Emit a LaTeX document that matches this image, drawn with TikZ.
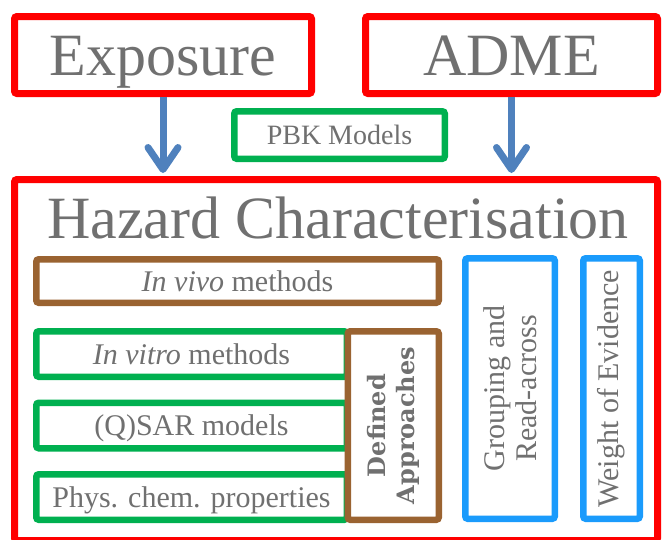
\documentclass[tikz,border=0pt]{standalone}
\usepackage{fontspec}
\setmainfont{Liberation Serif}
\newfontfamily\dvserif{DejaVu Serif}
\usetikzlibrary{arrows.meta}
\definecolor{redc}{HTML}{FF0000}
\definecolor{greenc}{HTML}{00B050}
\definecolor{brownc}{HTML}{9A6331}
\definecolor{bluec}{HTML}{1A9BFC}
\definecolor{arrc}{HTML}{4F81BD}
\definecolor{txt}{HTML}{707070}
\begin{document}
\begin{tikzpicture}[x=1pt,y=-1pt,
  box/.style={draw, line width=6.5pt, rounded corners=2.5pt, inner sep=0pt, fill=white, text=txt, anchor=center},
  redbox/.style={box, draw=redc, line width=7pt},
  greenbox/.style={box, draw=greenc},
  brownbox/.style={box, draw=brownc},
  bluebox/.style={box, draw=bluec},
  big/.style={font=\fontsize{60}{66}\selectfont, text height=40pt, text depth=0pt},
  small/.style={font=\fontsize{30}{34}\selectfont, text height=20pt, text depth=0pt},
  rot/.style={rotate=90, align=center, font=\fontsize{30}{32}\selectfont},
  arr/.style={draw=arrc, line width=7pt, shorten >=3pt, -{Straight Barb[length=22pt, width=30pt, round]}}
]
\useasboundingbox (0,0) rectangle (663,539);
\clip (0,0) rectangle (663,539);
% top boxes
\node[redbox, big, minimum width=297pt, minimum height=77pt] (expo) at (163,55) {Exposure};
\node[redbox, big, minimum width=292pt, minimum height=77pt] (adme) at (511.5,55) {ADME};
\node[greenbox, font=\fontsize{28}{32}\selectfont, text height=19pt, text depth=0pt, minimum width=210.5pt, minimum height=47.5pt] (pbk) at (339.5,135) {PBK Models};
% hazard box
\node[redbox, minimum width=643pt, minimum height=361pt] (haz) at (336,360) {};
\node[text=txt, font=\fontsize{60}{66}\selectfont, anchor=base, inner sep=0pt] (haztitle) at (338,238) {Hazard Characterisation};
% arrows
\draw[arr] (expo.south) -- (expo.south |- haz.north);
\draw[arr] (adme.south) -- (adme.south |- haz.north);
% inner boxes
\node[brownbox, small, minimum width=402.5pt, minimum height=43.5pt] (vivo) at (237.5,281) {\textit{In vivo} methods};
\node[greenbox, small, minimum width=310.5pt, minimum height=45.5pt] (vitro) at (191.5,354) {\textit{In vitro} methods};
\node[greenbox, small, minimum width=310.5pt, minimum height=45.5pt] (qsar) at (191.5,425.5) {(Q)SAR models};
\node[greenbox, small, minimum width=310.5pt, minimum height=45.5pt] (phys) at (191.5,497) {Phys. chem. properties};
\node[brownbox, rotate=90, align=center, font=\dvserif\bfseries\fontsize{24}{29}\selectfont, minimum width=188.5pt, minimum height=91pt] (da) at (393.25,425.5) {Defined\\Approaches};
\node[bluebox, rot, minimum width=260.5pt, minimum height=89.5pt] (gra) at (510,388.5) {Grouping and\\Read-across};
\node[bluebox, rot, minimum width=260.5pt, minimum height=56.5pt] (woe) at (611.5,388.5) {Weight of Evidence};
\end{tikzpicture}
\end{document}
